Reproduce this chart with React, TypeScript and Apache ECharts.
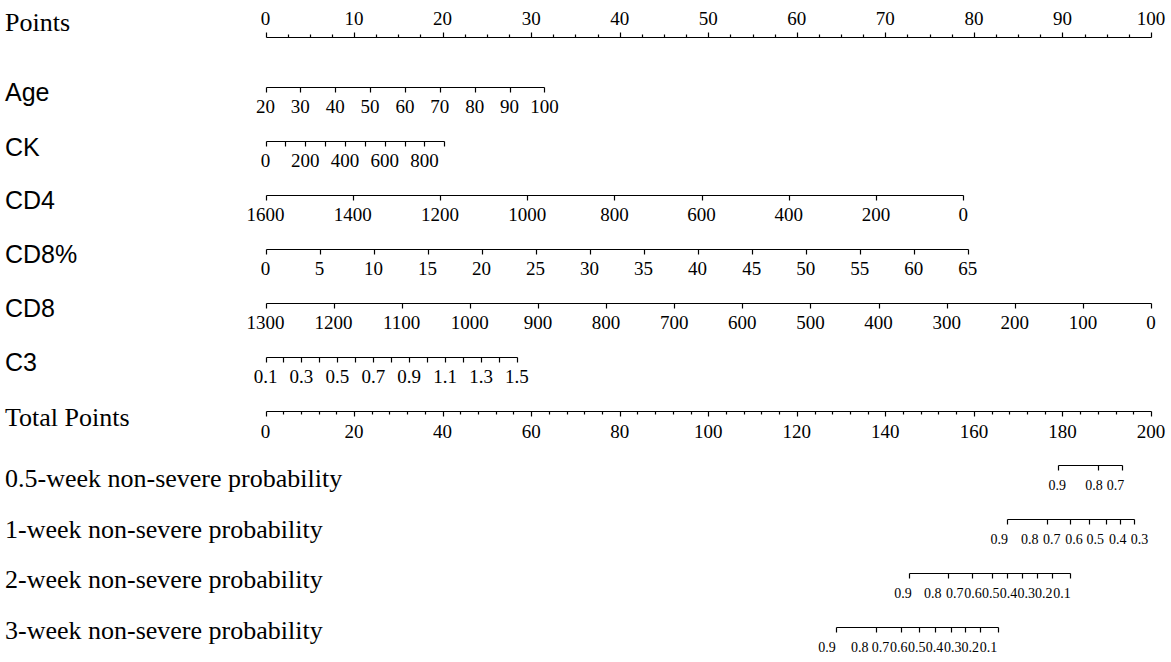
import React, { useEffect, useRef } from "react";
import * as echarts from "echarts";

const SERIF = '"Liberation Serif","Times New Roman",serif';
const SANS = '"Liberation Sans",Arial,sans-serif';

// ---- Points scale (0-100), labels every 10, minor ticks every 2.5
const pointsLabels = [0, 10, 20, 30, 40, 50, 60, 70, 80, 90, 100];
const pointsMinorStep = 2.5;

// ---- Predictors: tick values, labelled values, points at first/last tick
const ageValues = [20, 30, 40, 50, 60, 70, 80, 90, 100];
const agePoints = [0, 31.5];

const ckValues = [0, 100, 200, 300, 400, 500, 600, 700, 800, 900];
const ckLabels = [0, 200, 400, 600, 800];
const ckPoints = [0, 20.2];

const cd4Values = [1600, 1400, 1200, 1000, 800, 600, 400, 200, 0];
const cd4Points = [0, 78.8];

const cd8pValues = [0, 5, 10, 15, 20, 25, 30, 35, 40, 45, 50, 55, 60, 65];
const cd8pPoints = [0, 79.3];

const cd8Values = [1300, 1200, 1100, 1000, 900, 800, 700, 600, 500, 400, 300, 200, 100, 0];
const cd8Points = [0, 100];

const c3Values = [0.1, 0.2, 0.3, 0.4, 0.5, 0.6, 0.7, 0.8, 0.9, 1.0, 1.1, 1.2, 1.3, 1.4, 1.5];
const c3Labels = [0.1, 0.3, 0.5, 0.7, 0.9, 1.1, 1.3, 1.5];
const c3Points = [0, 28.4];

// ---- Total points scale (0-200), labels every 20, minor ticks every 4
const totalLabels = [0, 20, 40, 60, 80, 100, 120, 140, 160, 180, 200];
const totalMinorStep = 4;

// ---- Probability scales: label, tick position and label position (total points)
const prob05Labels = ["0.9", "0.8", "0.7"];
const prob05Total = [178.9, 188.0, 193.4];
const prob05LabelTotal = [178.8, 187.1, 192.0];

const prob1Labels = ["0.9", "0.8", "0.7", "0.6", "0.5", "0.4", "0.3"];
const prob1Total = [167.4, 176.4, 181.8, 186.1, 189.8, 193.1, 196.2];
const prob1LabelTotal = [165.7, 172.6, 177.6, 182.6, 187.4, 192.5, 197.4];

const prob2Labels = ["0.9", "0.8", "0.7", "0.6", "0.5", "0.4", "0.3", "0.2", "0.1"];
const prob2Total = [145.4, 154.1, 159.6, 164.1, 167.5, 170.9, 174.2, 177.7, 181.7];
const prob2LabelTotal = [144.0, 150.7, 155.7, 159.8, 163.8, 167.8, 171.8, 175.8, 179.9];

const prob3Labels = ["0.9", "0.8", "0.7", "0.6", "0.5", "0.4", "0.3", "0.2", "0.1"];
const prob3Total = [128.9, 137.9, 143.5, 147.6, 151.3, 154.8, 158.0, 161.4, 165.5];
const prob3LabelTotal = [126.8, 134.2, 138.9, 143.0, 147.1, 151.1, 155.2, 159.2, 163.3];

type Tick = { pts: number; len: number; label: string; labelPts?: number };
type Row = {
  title: string;
  font: string;
  titleY: number;
  dir: number; // -1 ticks/labels up, 1 down
  labelSize: number;
  labelOffset: number;
  ticks: Tick[];
};

function steps(start: number, end: number, step: number): number[] {
  const out: number[] = [];
  const n = Math.round((end - start) / step);
  for (let i = 0; i <= n; i++) out.push(+(start + i * step).toFixed(6));
  return out;
}

function linearRow(values: number[], labels: number[] | null, pts: number[]): Tick[] {
  const v0 = values[0];
  const v1 = values[values.length - 1];
  return values.map((v) => ({
    pts: pts[0] + ((v - v0) / (v1 - v0)) * (pts[1] - pts[0]),
    len: 5,
    label: !labels || labels.includes(v) ? String(v) : "",
  }));
}

function probRow(labels: string[], totals: number[], labelTotals: number[]): Tick[] {
  return labels.map((l, i) => ({ pts: totals[i] / 2, len: 5, label: l, labelPts: labelTotals[i] / 2 }));
}

const pointsTicks: Tick[] = steps(0, 100, pointsMinorStep).map((v) => {
  const major = pointsLabels.includes(v);
  return { pts: v, len: major ? 5 : 3, label: major ? String(v) : "" };
});

const totalTicks: Tick[] = steps(0, 200, totalMinorStep).map((t) => {
  const major = totalLabels.includes(t);
  return { pts: t / 2, len: major ? 5 : 3, label: major ? String(t) : "" };
});

const serifTitle = "26px " + SERIF;
const sansTitle = "25px " + SANS;

const rows: Row[] = [
  { title: "Points", font: serifTitle, titleY: 22, dir: -1, labelSize: 19, labelOffset: 19, ticks: pointsTicks },
  { title: "Age", font: sansTitle, titleY: 92, dir: 1, labelSize: 19, labelOffset: 19, ticks: linearRow(ageValues, null, agePoints) },
  { title: "CK", font: sansTitle, titleY: 147, dir: 1, labelSize: 19, labelOffset: 19, ticks: linearRow(ckValues, ckLabels, ckPoints) },
  { title: "CD4", font: sansTitle, titleY: 200, dir: 1, labelSize: 19, labelOffset: 19, ticks: linearRow(cd4Values, null, cd4Points) },
  { title: "CD8%", font: sansTitle, titleY: 254, dir: 1, labelSize: 19, labelOffset: 19, ticks: linearRow(cd8pValues, null, cd8pPoints) },
  { title: "CD8", font: sansTitle, titleY: 308, dir: 1, labelSize: 19, labelOffset: 19, ticks: linearRow(cd8Values, null, cd8Points) },
  { title: "C3", font: sansTitle, titleY: 362, dir: 1, labelSize: 19, labelOffset: 19, ticks: linearRow(c3Values, c3Labels, c3Points) },
  { title: "Total Points", font: serifTitle, titleY: 417, dir: 1, labelSize: 19, labelOffset: 20, ticks: totalTicks },
  { title: "0.5-week non-severe probability", font: serifTitle, titleY: 478, dir: 1, labelSize: 14, labelOffset: 20, ticks: probRow(prob05Labels, prob05Total, prob05LabelTotal) },
  { title: "1-week non-severe probability", font: serifTitle, titleY: 529, dir: 1, labelSize: 14, labelOffset: 20, ticks: probRow(prob1Labels, prob1Total, prob1LabelTotal) },
  { title: "2-week non-severe probability", font: serifTitle, titleY: 579, dir: 1, labelSize: 14, labelOffset: 20, ticks: probRow(prob2Labels, prob2Total, prob2LabelTotal) },
  { title: "3-week non-severe probability", font: serifTitle, titleY: 630, dir: 1, labelSize: 14, labelOffset: 20, ticks: probRow(prob3Labels, prob3Total, prob3LabelTotal) },
];

const rowSlot = (i: number) => (i === 0 ? 0 : i - 4 / 54);

export default function App() {
  const ref = useRef<HTMLDivElement>(null);
  useEffect(() => {
    if (!ref.current) return;
    const chart = echarts.init(ref.current, undefined, { renderer: "svg" });

    const series = rows.map((row, ri) => {
      const slot = rowSlot(ri);
      const ptsList = row.ticks.map((t) => t.pts);
      const minP = Math.min(...ptsList);
      const maxP = Math.max(...ptsList);
      return {
        type: "custom",
        coordinateSystem: "cartesian2d",
        silent: true,
        clip: false,
        data: row.ticks.map((t) => [t.pts, slot]),
        renderItem: (params: any, api: any) => {
          const t = row.ticks[params.dataIndex];
          const p = api.coord([t.pts, slot]);
          const x = Math.round(p[0]) + 0.5;
          const y = Math.round(p[1]) + 0.5;
          const children: any[] = [];
          if (params.dataIndex === 0) {
            const a = api.coord([minP, slot]);
            const b = api.coord([maxP, slot]);
            children.push({
              type: "line",
              shape: { x1: Math.round(a[0]) + 0.5, y1: y, x2: Math.round(b[0]) + 0.5, y2: y },
              style: { stroke: "#000", lineWidth: 1.2 },
            });
          }
          children.push({
            type: "line",
            shape: { x1: x, y1: y, x2: x, y2: y + row.dir * t.len },
            style: { stroke: "#000", lineWidth: 1.2 },
          });
          if (t.label) {
            const lx = t.labelPts !== undefined ? api.coord([t.labelPts, slot])[0] : p[0];
            children.push({
              type: "text",
              style: {
                text: t.label,
                x: lx,
                y: y + row.dir * row.labelOffset,
                align: "center",
                verticalAlign: "middle",
                fontFamily: SERIF,
                fontSize: row.labelSize,
                fill: "#000",
              },
            });
          }
          return { type: "group", children };
        },
      };
    });

    const graphic = rows.map((row) => ({
      type: "text",
      x: 5,
      y: row.titleY,
      silent: true,
      style: {
        text: row.title,
        font: row.font,
        fill: "#000",
        verticalAlign: "middle",
        align: "left",
      },
    }));

    chart.setOption({
      animation: false,
      backgroundColor: "#fff",
      grid: { left: 265.5, top: 37, width: 885.5, height: 594 },
      xAxis: { type: "value", min: 0, max: 100, show: false },
      yAxis: { type: "value", min: 0, max: 11, inverse: true, show: false },
      graphic,
      series,
    } as any);

    return () => chart.dispose();
  }, []);

  return (
    <div
      ref={ref}
      style={{ position: "fixed", left: 0, top: 0, width: 1171, height: 662, background: "#fff" }}
    />
  );
}
